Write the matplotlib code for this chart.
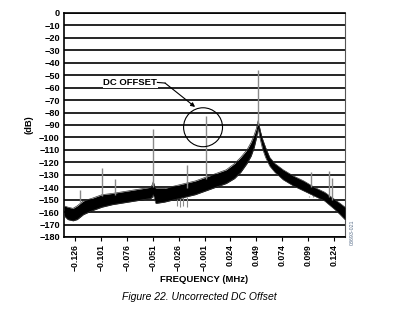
import matplotlib
matplotlib.use("Agg")
import matplotlib.pyplot as plt
from matplotlib.patches import Ellipse

plt.rcParams['font.family'] = ['Liberation Sans', 'DejaVu Sans']

# noise floor envelope (MHz, dB)
band_freq = [-0.1366, -0.133, -0.128, -0.124, -0.118, -0.110, -0.100, -0.090,
             -0.075, -0.060, -0.053, -0.0515, -0.0505, -0.0495, -0.048, -0.040,
             -0.030, -0.020, -0.010, 0.000, 0.010, 0.020, 0.028, 0.034, 0.040,
             0.044, 0.047, 0.049, 0.0503, 0.0508, 0.0515, 0.053, 0.055, 0.058,
             0.062, 0.067, 0.075, 0.085, 0.095, 0.105, 0.115, 0.125, 0.130, 0.1347]
band_upper = [-155, -156, -157, -155, -151, -149, -146, -145,
              -143, -141, -140, -138, -135.5, -138, -141, -141,
              -139, -137, -135, -132, -129, -126, -121, -116, -110,
              -104, -98, -93, -88, -86.5, -89, -95, -101, -108,
              -116, -121, -126, -131, -135, -140, -144, -150, -153, -156]
band_lower = [-163, -166, -167, -166, -162, -159, -156, -154,
              -152, -150, -149, -148, -146, -149, -153, -152,
              -150, -148, -146, -143, -140, -137, -133, -128, -121,
              -115, -108, -101, -95, -93, -96, -102, -109, -116,
              -123, -128, -134, -139, -143, -147, -151, -158, -162, -166]

# discrete spurs (MHz, peak dB)
spur_freq = [-0.121, -0.100, -0.0874, -0.0505, -0.0183, 0.000, 0.0508, 0.1014, 0.1195, 0.1218]
spur_top = [-142, -124.6, -133.6, -93, -122, -83, -45.8, -128, -126.7, -132.7]
spur_base = [-152, -147, -146, -140, -141, -133, -90, -140, -148, -150]

# dropouts below the floor
dip_freq = [-0.028, -0.025, -0.022, -0.018, 0.100, 0.104]
dip_bottom = [-155, -156, -155, -156, -147, -146]

xticks = [-0.126, -0.101, -0.076, -0.051, -0.026, -0.001, 0.024, 0.049, 0.074, 0.099, 0.124]
yticks = list(range(0, -190, -10))

fig = plt.figure(figsize=(4.02, 3.35), dpi=100)
ax = fig.add_axes([64 / 402, 1 - 237 / 335, 281 / 402, 224 / 335])

ax.fill_between(band_freq, band_lower, band_upper, color='black', lw=0, zorder=3)
ax.plot(band_freq, band_upper, color='#333333', lw=0.5, zorder=3)
ax.plot(band_freq, band_lower, color='#333333', lw=0.5, zorder=3)
ax.vlines(spur_freq, spur_base, spur_top, color='#8a8a8a', lw=1.0, zorder=4)
ax.vlines(dip_freq, [-148] * len(dip_freq), dip_bottom, color='#8a8a8a', lw=0.8, zorder=2)

ax.set_xlim(-0.1367, 0.1347)
ax.set_ylim(-180, 0)
ax.set_yticks(yticks)
ax.set_yticklabels([("\u2212" + str(-v)) if v else "0" for v in yticks],
                   fontsize=6.6, fontweight='bold')
ax.set_xticks(xticks)
ax.set_xticklabels([("\u2212" if v < 0 else "") + f"{abs(v):.3f}" for v in xticks],
                   rotation=90, fontsize=6.2, fontweight='bold')
ax.tick_params(axis='y', length=0, pad=3)
ax.tick_params(axis='x', length=3, width=0.8, pad=2, direction='out')
ax.yaxis.grid(True, color='black', lw=1.2, zorder=1)
ax.set_axisbelow(True)

for side in ['left', 'bottom', 'top']:
    ax.spines[side].set_linewidth(1.2)
ax.spines['right'].set_color('#555555')
ax.spines['right'].set_linewidth(0.8)

ax.set_xlabel("FREQUENCY (MHz)", fontsize=6.8, fontweight='bold', labelpad=3)
ax.set_ylabel("(dB)", fontsize=6.8, fontweight='bold', labelpad=4)

# DC offset callout
ax.add_patch(Ellipse((-0.0024, -91.8), 0.0376, 31.3, fill=False, ec='black', lw=0.8, zorder=5))
ax.text(-0.0468, -55.8, "DC OFFSET", ha='right', va='center', fontsize=6.8,
        fontweight='bold', zorder=6,
        bbox=dict(facecolor='white', edgecolor='none', pad=0.5))
ax.plot([-0.0465, -0.0391], [-55.8, -56.3], color='black', lw=0.8, zorder=6)
ax.annotate("", xy=(-0.0101, -75.5), xytext=(-0.0391, -56.3),
            arrowprops=dict(arrowstyle='-|>', color='black', lw=0.8,
                            mutation_scale=6, shrinkA=0, shrinkB=0), zorder=6)

fig.text(352 / 402, 1 - 232 / 335, "03693-021", rotation=90, fontsize=3.8,
         color='#5a6f8a', ha='center', va='center')
fig.text(199 / 402, 1 - 297 / 335, "Figure 22. Uncorrected DC Offset",
         fontsize=7.5, style='italic', ha='center', va='center')

fig.savefig("out.png", dpi=100)
